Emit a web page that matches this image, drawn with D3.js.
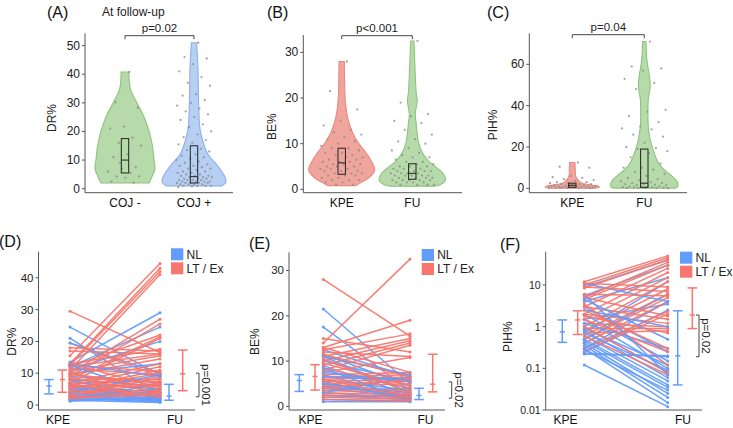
<!DOCTYPE html>
<html><head><meta charset="utf-8">
<script src="https://cdn.jsdelivr.net/npm/d3@7"></script>
<style>
body{margin:0;background:#fff;}
svg{display:block;font-family:"Liberation Sans",Arial,sans-serif;}
</style></head><body>
<svg id="chart" width="733" height="428"></svg>
<script>
// ---------------- DATA ----------------
const catsA = ["COJ -", "COJ +"];
const catsB = ["KPE", "FU"];
const catsC = ["KPE", "FU"];
const ticksA = [0, 10, 20, 30, 40, 50];
const ticksB = [0, 10, 20, 30];
const ticksC = [0, 20, 40, 60];
const ticksD = [0, 10, 20, 30, 40];
const ticksE = [0, 10, 20, 30];
const ticksF = [0.01, 0.1, 1, 10];
const tickLabelsF = ["0.01", "0.1", "1", "10"];
const legendLabels = ["NL", "LT / Ex"];
const pLabelsTop = ["p=0.02", "p<0.001", "p=0.04"];
const pLabelsBottom = ["p=0.001", "p=0.02", "p=0.02"];

// violin density profiles: [value, relative half-width]
const violinA_neg = [[2,0.73],[4,0.81],[7,0.91],[10,0.88],[15,0.83],[20,0.73],[25,0.58],[30,0.36],[35,0.16],[40.8,0.12]];
const violinA_pos = [[1,0.85],[2.3,0.97],[4,0.94],[6.2,0.83],[8.5,0.68],[12,0.42],[16.5,0.27],[21,0.18],[30,0.14],[42.5,0.12],[51,0.08]];
const violinB_kpe = [[0.8,0.42],[1.3,0.55],[2.7,0.85],[4.2,1.0],[5.6,0.94],[7.8,0.76],[10,0.52],[12.4,0.33],[15.7,0.18],[19.4,0.11],[23,0.09],[28,0.08]];
const violinB_fu = [[0.7,0.67],[1,0.85],[1.9,1.0],[3.4,0.94],[4.8,0.73],[6.3,0.48],[8.5,0.27],[10.6,0.18],[14.3,0.12],[16.5,0.09],[19.4,0.15],[21,0.12],[26.8,0.08],[32.5,0.05]];
const violinC_kpe = [[0.05,0.6],[0.5,0.82],[1.2,0.76],[2,0.42],[3,0.24],[4.5,0.15],[6,0.1],[9,0.09],[12.5,0.08]];
const violinC_fu = [[0.1,0.85],[0.6,1.0],[3.1,1.0],[6.2,0.82],[9,0.6],[12.5,0.42],[18.5,0.27],[23.5,0.18],[30,0.12],[37.5,0.11],[43,0.12],[49.7,0.18],[54.6,0.15],[62,0.08],[71,0.05]];

// box stats: [q1, median, q3]
const boxA = [[5.5, 10, 17.5], [2, 4.2, 15]];
const boxB = [[3.3, 5.8, 9], [2.2, 3.5, 5.6]];
const boxC = [[0.5, 1.5, 2.5], [0.5, 2.5, 19]];

// jittered observations
const pointsA_neg = [40.8,30.2,28.3,21.7,21,17.8,16,15,12,11,7.5,7,6,5.5,4.3,4.3,3.8,2.5,2,9];
const pointsA_pos = [51,46,45.5,43.5,41,39,37,36,33,32.5,31,30,29,28,27,26,25,24,22.5,21.5,20,19,18,17,16,15.5,14,13.5,13,12,11.5,11,10.5,10,9.5,9,8.5,8,8,7.5,7,7,6.5,6,6,5.5,5.5,5,5,4.5,4.5,4.5,4,4,4,3.5,3.5,3.5,3,3,3,3,2.5,2.5,2.5,2.5,2,2,2,2,2,1.5,1.5,1.5,1.5,1,1,1,1,0.8,0.5];
const pointsB_kpe = [28,21.5,17.5,15,14,13,12.5,12,11.5,11,10.5,10,9.5,9,9,8.5,8,8,7.5,7.5,7,7,6.5,6.5,6,6,6,5.5,5.5,5.5,5,5,5,4.5,4.5,4.5,4,4,4,3.5,3.5,3.5,3,3,3,2.5,2.5,2,2,2,1.5,1.5,1,1];
const pointsB_fu = [32.5,19,16.5,16,15,14.5,13,12,11,10.5,10,9,8.5,8,7.5,7,7,6.5,6,6,5.5,5.5,5,5,5,4.5,4.5,4.5,4,4,4,4,3.5,3.5,3.5,3.5,3,3,3,3,3,2.5,2.5,2.5,2.5,2,2,2,2,2,1.5,1.5,1.5,1.5,1,1,1,1];
const pointsC_kpe = [12.5,10.5,10,6,5.5,5,4.5,4,3.5,3,3,2.5,2.5,2,2,2,1.5,1.5,1.5,1.2,1,1,1,1,0.8,0.8,0.7,0.6,0.5,0.5,0.5,0.4,0.3,0.3,0.2,0.2,0.1];
const pointsC_fu = [71,59,58,57,53,51,48,38,37,35,32,30,29,28.5,26,25,22,20,19.5,19,18,17,15,12,10,10,9,8,7,6,5,4.5,4,3.5,3,2.5,2.5,2,2,1.8,1.5,1.5,1.2,1,1,0.8,0.7,0.5,0.5,0.3,0.2,0.2,0.1,0.1,0.05];

// paired values [KPE, FU]
const dNL = [[24.5,9.5],[21,3],[19.5,10],[13.5,29],[12,24.5],[11,20],[10,13],[9,7],[8,6],[7,5],[6,4],[5.5,3.5],[5,3],[4.5,2.5],[4,2],[3.5,1.8],[3,1.5],[2.5,1.2],[2,1],[1.5,0.8],[6.5,1],[8,2],[3,5],[2,6.5],[12.5,3],[1.2,2.5],[13,9],[4,9.5],[2.5,4],[1.8,2]];
const dLT = [[29.5,16.5],[19.5,9],[18,17],[17,16],[15.5,44.5],[13,43],[12.5,42],[11,41],[10,27],[9,25.5],[12,22],[8,21.5],[7,21],[13,17.5],[12,16],[10.5,15.5],[9.5,14.5],[7,13],[6,12],[5,11],[12.5,10.5],[11.5,9.5],[4,9],[3,8.5],[8,8],[7,7.5],[9.5,7],[6,6.5],[5.5,6],[10,5],[4.5,4.5],[8.5,4],[3.5,3.5],[2.5,3],[6.5,2.5],[13,5.5],[5,10],[3,7],[2,4]];
const eNL = [[21.5,5],[17.5,3.5],[12.5,6.5],[11.5,4.5],[11,3],[10,5.5],[9,2.5],[8,4],[7,2],[6,3.5],[5.5,1.5],[5,3],[4.5,2.5],[4,2],[3.5,4],[3,1.8],[2.5,1.5],[2,2.5],[1.5,1.2],[1,1],[6.5,6],[8.5,1.2],[3,6.5],[11,7],[7.5,5.5],[5,2]];
const eLT = [[28,15.5],[14,32.5],[13,19],[12.5,16],[11,15],[10,14.5],[9,14],[8,13.5],[15,12],[12,11],[7.5,10.8],[7,7.5],[6.5,7],[6,6.5],[5.5,6],[5,5.5],[4.5,5],[9.5,4.5],[8.5,4],[4,3.5],[3.5,3],[3,2.5],[2.5,2],[2,1.5],[1.5,1.2],[10.5,3],[6,2],[11.5,6.5],[13,7.5],[4,6]];
const fNL = [[9,40],[5.5,30],[4,15],[0.7,12],[0.5,6],[0.3,4],[1.5,3.5],[0.25,2.5],[0.22,0.2],[0.12,0.012],[3,0.25],[2,0.15],[1.5,0.1],[1,0.08],[0.8,0.06],[0.6,0.05],[0.5,0.04],[0.4,0.025],[0.35,0.02],[0.3,0.015],[4.5,0.5],[2.5,1],[1.2,0.3],[0.9,0.12],[0.7,0.09],[0.45,0.035],[0.28,0.03],[11,4],[6,0.07],[0.23,0.19]];
const fLT = [[12,50],[10,45],[8.5,40],[5,35],[4.5,30],[3,25],[2,20],[1.5,15],[1,12],[0.8,8],[0.6,6],[0.5,5],[0.4,4],[0.3,2.3],[0.25,2],[5,1.8],[3,1.5],[2,1.2],[1.2,1],[0.9,0.9],[0.7,0.8],[1.8,0.7],[2.5,0.3],[1.5,0.25],[3.5,0.12],[1,0.08],[0.6,0.07],[11,9],[9,7],[6,5.5]];

// error bars: [lower, centre, upper]; KPE NL, KPE LT, FU NL, FU LT
const errD = [[3.5,6,8],[4,8,11],[1.5,2.8,6.5],[4.5,9.8,17.3]];
const errE = [[3.3,5.7,7],[3.6,6.6,9.2],[1.5,2.4,4],[3.2,4.9,11.5]];
const errF = [[0.42,0.75,1.45],[0.65,1.45,2.4],[0.04,0.2,2.4],[0.9,1.9,8.5]];
// significance brackets (lower, upper)
const brD = [2.6, 10];
const brE = [1.8, 5.4];
const brF = [0.19, 1.9];

// ---------------- DRAWING ----------------
const svg = d3.select("#chart");
const FONT = 12;
const BLUE = "#619CFF", RED = "#F8766D";
const GREEN_F = "#b6daa9", GREEN_S = "#8dc47d";
const BLUE_F = "#b7cff3", BLUE_S = "#8fb0e8";
const RED_F = "#efa59c", RED_S = "#e98a80";
const AXIS = "#555";
const wScale = d3.scaleLinear().domain([0, 1]).range([0, 33]);
const golden = 0.6180339887;

function yAxis(g, x, y, ticks, labels, fs) {
  g.append("line").attr("x1", x).attr("x2", x)
    .attr("y1", y.range()[0]).attr("y2", y.range()[1])
    .attr("stroke", AXIS).attr("stroke-width", 1);
  ticks.forEach((t, i) => {
    g.append("line").attr("x1", x - 3).attr("x2", x).attr("y1", y(t)).attr("y2", y(t))
      .attr("stroke", AXIS);
    g.append("text").attr("x", x - 5).attr("y", y(t)).attr("text-anchor", "end")
      .attr("dominant-baseline", "central").attr("font-size", fs || FONT).attr("fill", "#222")
      .text(labels ? labels[i] : t);
  });
}
function xAxisLine(g, x1, x2, yPos) {
  g.append("line").attr("x1", x1).attr("x2", x2).attr("y1", yPos).attr("y2", yPos)
    .attr("stroke", AXIS).attr("stroke-width", 1);
}
function yTitle(text, x, y) {
  svg.append("text").attr("transform", `translate(${x},${y}) rotate(-90)`)
    .attr("text-anchor", "middle").attr("dominant-baseline", "central")
    .attr("font-size", FONT).attr("fill", "#222").text(text);
}
function panelTag(text, x, y) {
  svg.append("text").attr("x", x).attr("y", y).attr("font-size", 16).attr("fill", "#111").text(text);
}
function catLabel(text, x, y) {
  svg.append("text").attr("x", x).attr("y", y).attr("text-anchor", "middle")
    .attr("font-size", FONT).attr("fill", "#111").text(text);
}

function violinPanel(cfg) {
  const g = svg.append("g");
  const y = d3.scaleLinear().domain(cfg.domain).range([cfg.yBot, cfg.yTop]);
  const x = d3.scalePoint().domain(cfg.cats).range(cfg.catRange);
  yAxis(g, cfg.axisX, y, cfg.ticks);
  xAxisLine(g, cfg.axisX, cfg.xEnd, cfg.yBot);
  cfg.cats.forEach((c, i) => {
    const cx = x(c);
    const area = d3.area().curve(d3.curveCatmullRom)
      .y(d => y(d[0])).x0(d => cx - wScale(d[1])).x1(d => cx + wScale(d[1]));
    g.append("path").datum(cfg.violins[i]).attr("d", area)
      .attr("fill", cfg.fills[i]).attr("stroke", cfg.strokes[i]).attr("stroke-width", 1.1);
    g.selectAll(null).data(cfg.points[i]).enter().append("circle")
      .attr("cx", (d, k) => cx + ((((k + 1) * golden) % 1) * 2 - 1) * cfg.jitter)
      .attr("cy", d => y(d)).attr("r", 1.15)
      .attr("fill", "#8a8a8a").attr("fill-opacity", 0.75);
    const b = cfg.boxes[i];
    g.append("rect").attr("x", cx - 3.7).attr("width", 7.4)
      .attr("y", y(b[2])).attr("height", y(b[0]) - y(b[2]))
      .attr("fill", "none").attr("stroke", "#222").attr("stroke-width", 1);
    g.append("line").attr("x1", cx - 3.7).attr("x2", cx + 3.7).attr("y1", y(b[1])).attr("y2", y(b[1]))
      .attr("stroke", "#222").attr("stroke-width", 1);
    catLabel(c, cx, 207);
  });
  // bracket
  const x1 = x(cfg.cats[0]), x2 = x(cfg.cats[1]), yb = cfg.brY;
  g.append("path").attr("d", `M${x1},${yb + 3.5}V${yb}H${x2}V${yb + 3.5}`)
    .attr("fill", "none").attr("stroke", "#444").attr("stroke-width", 1);
  g.append("text").attr("x", (x1 + x2) / 2).attr("y", yb - 4).attr("text-anchor", "middle")
    .attr("font-size", 11.5).attr("fill", "#222").text(cfg.pText);
}

violinPanel({cats: catsA, catRange: [125, 194], axisX: 85, xEnd: 233, yBot: 192.7, yTop: 33.3,
  domain: [-1.4, 54.3], ticks: ticksA, violins: [violinA_neg, violinA_pos],
  fills: [GREEN_F, BLUE_F], strokes: [GREEN_S, BLUE_S], points: [pointsA_neg, pointsA_pos],
  boxes: boxA, jitter: 18, brY: 35.7, pText: pLabelsTop[0]});
violinPanel({cats: catsB, catRange: [341.7, 412.3], axisX: 303.3, xEnd: 462, yBot: 192.7, yTop: 35,
  domain: [-0.74, 33.8], ticks: ticksB, violins: [violinB_kpe, violinB_fu],
  fills: [RED_F, GREEN_F], strokes: [RED_S, GREEN_S], points: [pointsB_kpe, pointsB_fu],
  boxes: boxB, jitter: 22, brY: 35.7, pText: pLabelsTop[1]});
violinPanel({cats: catsC, catRange: [572.3, 644.3], axisX: 529.3, xEnd: 687, yBot: 192.7, yTop: 33.3,
  domain: [-2.1, 75], ticks: ticksC, violins: [violinC_kpe, violinC_fu],
  fills: [RED_F, GREEN_F], strokes: [RED_S, GREEN_S], points: [pointsC_kpe, pointsC_fu],
  boxes: boxC, jitter: 24, brY: 34.7, pText: pLabelsTop[2]});

panelTag("(A)", 47, 18); panelTag("(B)", 267, 18); panelTag("(C)", 487, 18);
svg.append("text").attr("x", 102).attr("y", 16).attr("font-size", 12).attr("fill", "#222").text("At follow-up");
yTitle("DR%", 52, 118); yTitle("BE%", 271.7, 126.7); yTitle("PIH%", 493, 125);

function pairedPanel(cfg) {
  const g = svg.append("g");
  const y = cfg.log
    ? d3.scaleLog().domain(cfg.domain).range([cfg.yBot, cfg.yTop])
    : d3.scaleLinear().domain(cfg.domain).range([cfg.yBot, cfg.yTop]);
  yAxis(g, cfg.axisX, y, cfg.ticks, cfg.tickLabels, cfg.tickFs);
  xAxisLine(g, cfg.axisX, cfg.xEnd, cfg.yBot);
  // interleave the two groups so neither colour sits entirely on top
  const rows = [];
  const n = Math.max(cfg.nl.length, cfg.lt.length);
  for (let i = 0; i < n; i++) {
    if (i < cfg.nl.length) rows.push({v: cfg.nl[i], c: BLUE});
    if (i < cfg.lt.length) rows.push({v: cfg.lt[i], c: RED});
  }
  g.selectAll(null).data(rows).enter().append("line")
    .attr("x1", cfg.lineX[0]).attr("x2", cfg.lineX[1])
    .attr("y1", d => y(d.v[0])).attr("y2", d => y(d.v[1]))
    .attr("stroke", d => d.c).attr("stroke-width", 1.5).attr("stroke-opacity", 0.95);
  rows.forEach(d => {
    g.append("circle").attr("cx", cfg.lineX[0]).attr("cy", y(d.v[0])).attr("r", 1.5).attr("fill", d.c);
    g.append("circle").attr("cx", cfg.lineX[1]).attr("cy", y(d.v[1])).attr("r", 1.5).attr("fill", d.c);
  });
  // error bars
  cfg.err.forEach((e, i) => {
    const ex = cfg.errX[i], col = i % 2 === 0 ? BLUE : RED;
    g.append("line").attr("x1", ex).attr("x2", ex).attr("y1", y(e[0])).attr("y2", y(e[2]))
      .attr("stroke", col).attr("stroke-width", 1.5);
    [[e[0], 4.8], [e[2], 4.8], [e[1], 2.6]].forEach(([v, hw]) => {
      g.append("line").attr("x1", ex - hw).attr("x2", ex + hw).attr("y1", y(v)).attr("y2", y(v))
        .attr("stroke", col).attr("stroke-width", 1.5);
    });
  });
  // bracket
  const bx = cfg.brX, y1 = y(cfg.br[1]), y2 = y(cfg.br[0]);
  g.append("path").attr("d", `M${bx - 3},${y1}H${bx}V${y2}H${bx - 3}`)
    .attr("fill", "none").attr("stroke", "#444").attr("stroke-width", 1);
  g.append("text").attr("transform", `translate(${bx + 7},${(y1 + y2) / 2}) rotate(90)`)
    .attr("text-anchor", "middle").attr("dominant-baseline", "central")
    .attr("font-size", 11.5).attr("fill", "#222").text(cfg.pText);
  // category labels
  catLabel("KPE", cfg.labX[0], 424);
  catLabel("FU", cfg.labX[1], 424);
  // legend
  legendLabels.forEach((l, i) => {
    g.append("rect").attr("x", cfg.legX).attr("y", cfg.legY + i * 14).attr("width", 12.3).attr("height", 12)
      .attr("fill", i === 0 ? BLUE : RED);
    g.append("text").attr("x", cfg.legX + 15.5).attr("y", cfg.legY + i * 14 + 6.2)
      .attr("dominant-baseline", "central").attr("font-size", FONT).attr("fill", "#222").text(l);
  });
}

pairedPanel({axisX: 38.5, xEnd: 195, yBot: 410, yTop: 251.7, domain: [-1.57, 48.2], ticks: ticksD,
  nl: dNL, lt: dLT, lineX: [70, 160], err: errD, errX: [49, 62.3, 169, 182.7],
  br: brD, brX: 199, pText: pLabelsBottom[0], labX: [58, 175], legX: 171, legY: 248.3, tickFs: 11.5});
pairedPanel({axisX: 289, xEnd: 445, yBot: 410, yTop: 252.3, domain: [-0.8, 34], ticks: ticksE,
  nl: eNL, lt: eLT, lineX: [323.3, 410], err: errE, errX: [299.3, 315, 419, 432.7],
  br: brE, brX: 451.7, pText: pLabelsBottom[1], labX: [310.5, 425.5], legX: 421.7, legY: 249, tickFs: 11.5});
pairedPanel({axisX: 545.7, xEnd: 702, yBot: 410, yTop: 251.7, domain: [0.01, 63], ticks: ticksF,
  tickLabels: tickLabelsF, log: true,
  nl: fNL, lt: fLT, lineX: [584.3, 667.7], err: errF, errX: [562.3, 577.7, 677.7, 692.3],
  br: brF, brX: 699, pText: pLabelsBottom[2], labX: [565.5, 683], legX: 680, legY: 251.7, tickFs: 10.5});

panelTag("(D)", -1, 247); panelTag("(E)", 249, 249); panelTag("(F)", 500, 250);
yTitle("DR%", 11.7, 341.7); yTitle("BE%", 255, 341.7); yTitle("PIH%", 508.3, 336.7);
</script>
</body></html>
